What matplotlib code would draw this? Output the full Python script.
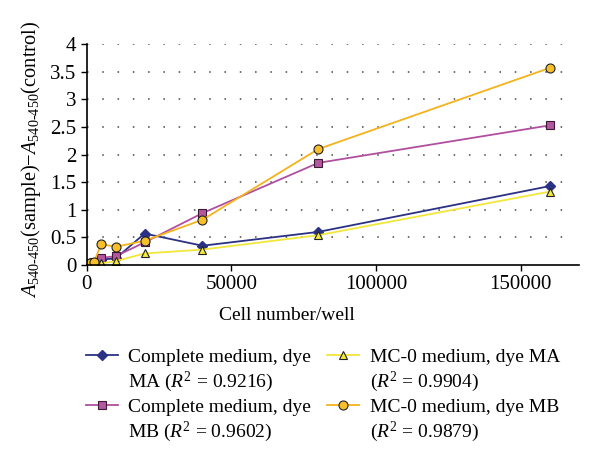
import matplotlib
matplotlib.use("Agg")
import matplotlib.pyplot as plt
from matplotlib.lines import Line2D

plt.rcParams["font.family"] = ["Liberation Serif", "DejaVu Serif"]
plt.rcParams["mathtext.fontset"] = "custom"
plt.rcParams["mathtext.rm"] = "Liberation Serif"
plt.rcParams["mathtext.it"] = "Liberation Serif:italic"

cells = [0, 625, 1250, 2500, 5000, 10000, 20000, 40000, 80000, 160000]
complete_ma = [0.01, 0.02, 0.03, 0.04, 0.10, 0.12, 0.57, 0.35, 0.60, 1.43]
complete_mb = [0.01, 0.02, 0.03, 0.05, 0.13, 0.16, 0.41, 0.94, 1.85, 2.53]
mc0_ma = [0.00, 0.01, 0.01, 0.02, 0.03, 0.07, 0.21, 0.28, 0.54, 1.33]
mc0_mb = [0.01, 0.02, 0.04, 0.05, 0.38, 0.33, 0.44, 0.82, 2.10, 3.57]

# each legend entry split over two lines
label_lines = [
    ("Complete medium, dye", "MA ($R^2$ = 0.9216)"),
    ("Complete medium, dye", "MB ($R^2$ = 0.9602)"),
    ("MC-0 medium, dye MA", "($R^2$ = 0.9904)"),
    ("MC-0 medium, dye MB", "($R^2$ = 0.9879)"),
]

fig = plt.figure(figsize=(6, 4.65), dpi=100)
ax = fig.add_axes([0.1445, 0.43, 0.82, 0.475])

l1, = ax.plot(cells, complete_ma, color="#2b3184", lw=1.3, marker="D", ms=5,
              mfc="#2b3184", mec="#2b3184")
l2, = ax.plot(cells, complete_mb, color="#b04fa0", lw=1.3, marker="s", ms=6,
              mfc="#b5579f", mec="#3a1a35", mew=0.8)
l3, = ax.plot(cells, mc0_ma, color="#f3e63a", lw=1.3, marker="^", ms=6,
              mfc="#f5ea3c", mec="#222222", mew=0.8)
l4, = ax.plot(cells, mc0_mb, color="#f4b21c", lw=1.3, marker="o", ms=6.5,
              mfc="#f7bf2a", mec="#222222", mew=0.8)

ax.set_xlim(0, 170000)
ax.set_ylim(0, 4)
ax.set_xticks([0, 50000, 100000, 150000])
ax.set_yticks([0, 0.5, 1, 1.5, 2, 2.5, 3, 3.5, 4])
ax.set_yticklabels(["0", "0.5", "1", "1.5", "2", "2.5", "3", "3.5", "4"])
ax.tick_params(labelsize=15, length=4, width=1)

for v in [0.5, 1, 1.5, 2, 2.5, 3, 3.5, 4]:
    ax.axhline(v, xmax=0.975, color="#444444", lw=1.1,
               ls=(0, (1, 9)), zorder=0)

for s in ["top", "right"]:
    ax.spines[s].set_visible(False)
ax.spines["left"].set_linewidth(1.2)
ax.spines["bottom"].set_linewidth(1.2)

ax.set_ylabel(r"$A_{\mathrm{540\text{-}450}}$(sample)$-A_{\mathrm{540\text{-}450}}$(control)",
              fontsize=14.7)
ax.yaxis.set_label_coords(-0.088, 0.48)
fig.text(0.478, 0.322, "Cell number/well", fontsize=14, ha="center", va="center")

blank = Line2D([], [], color="none")
handles = [l1, blank, l2, blank, l3, blank, l4, blank]
texts = []
for a, b in label_lines:
    texts += [a, b]

fig.legend(handles, texts, loc="upper left", bbox_to_anchor=(0.12, 0.28),
           ncol=2, frameon=False, fontsize=14, handlelength=1.65,
           handletextpad=0.55, columnspacing=0.8, labelspacing=0.2,
           borderpad=0.2)

fig.savefig("out.png", dpi=100)
